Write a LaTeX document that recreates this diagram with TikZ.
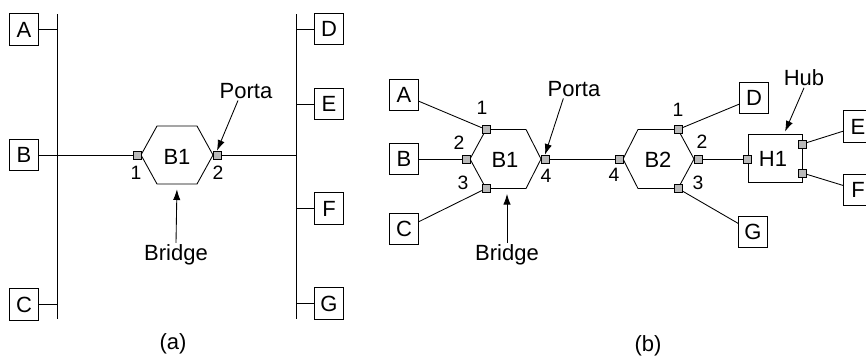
\documentclass[tikz,border=0pt]{standalone}
\usepackage{fontspec}
\setmainfont{Liberation Sans}
\usetikzlibrary{arrows.meta}

\begin{document}
\begin{tikzpicture}[x=0.75pt, y=-0.75pt, line width=.65pt]

    \tikzstyle{station} = [draw, fill=white, minimum width=21.5pt, minimum height=23.5pt,
                           inner sep=0pt, font=\fontsize{16.5}{16.5}\selectfont]
    \tikzstyle{port} = [draw, line width=.45pt, fill=gray!55, minimum size=6pt, inner sep=0pt]
    \tikzstyle{ann} = [font=\fontsize{16.5}{16.5}\selectfont, inner sep=1pt]
    \tikzstyle{num} = [font=\fontsize{14.5}{14.5}\selectfont, inner sep=0pt]
    \tikzstyle{pointer} = [-{Latex[length=8pt, width=5.5pt]}, line width=.65pt]

    \useasboundingbox (0,0) rectangle (866,361);

    % (a) two buses and one bridge
    \coordinate (lbus top) at (57,14);
    \coordinate (lbus bot) at (57,319);
    \coordinate (rbus top) at (296,14);
    \coordinate (rbus bot) at (296,319);
    \draw (lbus top) -- (lbus bot);
    \draw (rbus top) -- (rbus bot);

    \node[station] (aA) at (24,29.5) {A};
    \node[station] (aB) at (24,155) {B};
    \node[station] (aC) at (24,304.5) {C};
    \node[station] (aD) at (329,29) {D};
    \node[station] (aE) at (329,104) {E};
    \node[station] (aF) at (329,208.5) {F};
    \node[station] (aG) at (329,303.5) {G};

    \foreach \s in {aA,aB,aC}
        \draw (\s.east) -- (\s.east -| lbus top);
    \foreach \s in {aD,aE,aF,aG}
        \draw (\s.west) -- (\s.west -| rbus top);

    % Bridge B1
    \draw (141,155) -- (157,126) -- (197,126) -- (213,155) -- (197,184)
        -- (157,184) -- cycle;
    \coordinate (ahex s) at (177,184);
    \node[port] (a1) at (137,155) {};
    \node[port] (a2) at (217,155) {};
    \draw (aB.east -| lbus top) -- (a1);
    \draw (a2) -- (a2 -| rbus top);

    \node[ann] (ab1) at (177,157) {B1};
    \node[num] (a1 lbl) at (136,173) {1};
    \node[num] (a2 lbl) at (218,173) {2};

    \node[ann] (aporta) at (246,91) {Porta};
    \draw[pointer] ([xshift=-6pt]aporta.south) -- (a2.north);
    \node[ann] (abridge) at (176,255) {Bridge};
    \draw[pointer, shorten >=4pt] (abridge.north) -- (ahex s);

    \node[ann] (alabel) at (173,344) {(a)};

    % (b) two bridges and a hub
    \node[station] (bA) at (404,95) {A};
    \node[station] (bB) at (404,159) {B};
    \node[station] (bC) at (404,229) {C};
    \node[station] (bD) at (754,98) {D};
    \node[station] (bG) at (753,232) {G};
    \node[station] (bE) at (858,126.5) {E};
    \node[station] (bF) at (858,190) {F};

    % Bridge B1
    \draw (470,159) -- (486,129.5) -- (526,129.5) -- (541,159) -- (526,188.5)
        -- (486,188.5) -- cycle;
    \coordinate (bhex s) at (507,188.5);
    \node[port] (b11) at (486,129.5) {};
    \node[port] (b12) at (466,159) {};
    \node[port] (b13) at (486,188.5) {};
    \node[port] (b14) at (545,159) {};

    % Bridge B2
    \draw (623,159) -- (638,129.5) -- (678,129.5) -- (694,159) -- (678,188.5)
        -- (638,188.5) -- cycle;
    \node[port] (b24) at (619,159) {};
    \node[port] (b21) at (678,129.5) {};
    \node[port] (b22) at (698,159) {};
    \node[port] (b23) at (678,188.5) {};

    % Hub H1
    \node[draw, minimum width=40.5pt, minimum height=36pt, inner sep=0pt] (h1) at (775,158) {};
    \node[port] (h1 in) at (h1.west |- 0,159) {};
    \node[port] (h1 e) at (h1.east |- 0,144) {};
    \node[port] (h1 f) at (h1.east |- 0,173) {};
    \coordinate (hub tip) at (784,134);

    \draw (bA) -- (b11);
    \draw (bB) -- (b12);
    \draw (bC) -- (b13);
    \draw (b14) -- (b24);
    \draw (b21) -- (bD);
    \draw (b23) -- (bG);
    \draw (b22) -- (h1 in);
    \draw (h1 e) -- (bE);
    \draw (h1 f) -- (bF);

    \node[ann] (bb1) at (505,160) {B1};
    \node[ann] (bb2) at (658,160) {B2};
    \node[ann] (bh1) at (773,159) {H1};

    \node[num] (b11 lbl) at (482,108) {1};
    \node[num] (b12 lbl) at (459,143) {2};
    \node[num] (b13 lbl) at (463,183) {3};
    \node[num] (b14 lbl) at (546,176) {4};
    \node[num] (b24 lbl) at (614,175) {4};
    \node[num] (b21 lbl) at (678,110) {1};
    \node[num] (b22 lbl) at (702,142) {2};
    \node[num] (b23 lbl) at (698,183) {3};

    \node[ann] (bporta) at (574,89) {Porta};
    \draw[pointer] ([xshift=-8pt]bporta.south) -- (b14.north);
    \node[ann] (bbridge) at (507,255) {Bridge};
    \draw[pointer, shorten >=4pt] (bbridge.north) -- (bhex s);
    \node[ann] (bhub) at (804,78) {Hub};
    \draw[pointer, shorten >=2pt] (bhub.south) -- (hub tip);

    \node[ann] (blabel) at (648,346) {(b)};

\end{tikzpicture}
\end{document}
